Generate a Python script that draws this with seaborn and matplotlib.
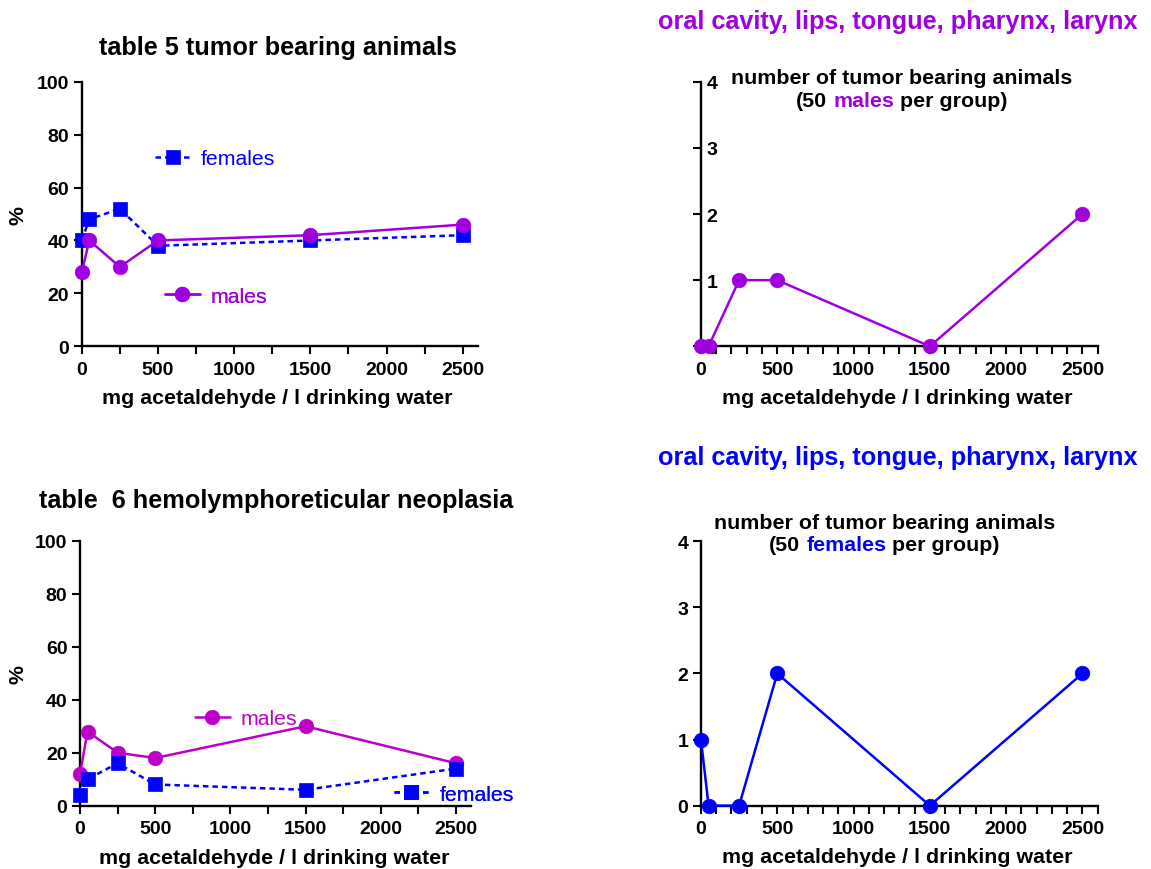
import matplotlib
matplotlib.use("Agg")
import matplotlib.pyplot as plt
import seaborn as sns
import pandas as pd
from matplotlib.ticker import MultipleLocator, FixedLocator
from matplotlib.offsetbox import TextArea, HPacker, VPacker, AnnotationBbox

# ---------------- data ----------------
dose = [0, 50, 250, 500, 1500, 2500]
t5_females = [40, 48, 52, 38, 40, 42]
t5_males = [28, 40, 30, 40, 42, 46]
t6_males = [12, 28, 20, 18, 30, 16]
t6_females = [4, 10, 16, 8, 6, 14]
oral_males = [0, 0, 1, 1, 0, 2]
oral_females = [1, 0, 0, 2, 0, 2]
pct_ticks = [0, 20, 40, 60, 80, 100]
count_ticks = [0, 1, 2, 3, 4]
dose_ticks = [0, 500, 1000, 1500, 2000, 2500]

PURPLE = "#A000E0"
MAGENTA = "#BC00C8"
BLUE = "#0000FF"

sns.set_theme(style="ticks")
plt.rcParams["font.family"] = ["Liberation Sans", "DejaVu Sans"]
plt.rcParams["font.weight"] = "bold"
plt.rcParams["axes.labelweight"] = "bold"

fig = plt.figure(figsize=(11.51, 8.70), dpi=100)

ax1 = fig.add_axes([0.0710, 0.6008, 0.3443, 0.3041])
ax2 = fig.add_axes([0.6090, 0.6008, 0.3447, 0.3041])
ax3 = fig.add_axes([0.0695, 0.0728, 0.3397, 0.3043])
ax4 = fig.add_axes([0.6090, 0.0728, 0.3447, 0.3039])

TICK_FS = 14
LABEL_FS = 15.4
XLABEL = "mg acetaldehyde / l drinking water"


def style(ax, ymax, yticks, minor_step):
    ax.set_xlim(0, 2600)
    ax.set_ylim(0, ymax)
    sns.despine(ax=ax)
    for s in ("left", "bottom"):
        ax.spines[s].set_linewidth(1.7)
        ax.spines[s].set_color("black")
    ax.xaxis.set_major_locator(FixedLocator(dose_ticks))
    ax.xaxis.set_minor_locator(MultipleLocator(minor_step))
    ax.yaxis.set_major_locator(FixedLocator(yticks))
    ax.tick_params(axis="both", which="both", direction="out", length=5.5,
                   width=1.5, color="black", labelsize=TICK_FS, labelcolor="black")
    ax.tick_params(axis="x", which="major", pad=5)
    for lab in ax.get_xticklabels() + ax.get_yticklabels():
        lab.set_fontweight("bold")
    ax.set_xlabel(XLABEL, fontsize=LABEL_FS, fontweight="bold", color="black")
    ax.xaxis.label.set_va("center")
    ax.set_facecolor("white")


def series(ax, y, color, marker, dashed, ms):
    ls = (0, (2.2, 1.6)) if dashed else "-"
    sns.lineplot(x=dose, y=y, ax=ax, color=color, marker=marker, markersize=ms,
                 linewidth=1.8, linestyle=ls, markeredgecolor=color,
                 markeredgewidth=0.5, clip_on=False, zorder=5, errorbar=None,
                 sort=False)
    return ax.lines[-1]


def entry(ax, handle, label, color, x, y):
    leg = ax.legend([handle], [label], loc="center left", bbox_to_anchor=(x, y),
                    frameon=False, borderpad=0, borderaxespad=0,
                    handlelength=1.65, handletextpad=0.5,
                    prop={"family": ["Liberation Sans"], "weight": "normal", "size": 15.3},
                    labelcolor=color)
    ax.add_artist(leg)
    return leg


def ylabel(ax, xcoord):
    ax.set_ylabel("%", fontsize=LABEL_FS, fontweight="bold", color="black")
    ax.yaxis.label.set_va("center")
    ax.yaxis.set_label_coords(xcoord, 0.5)


# ---- panel 1 ----
style(ax1, 100, pct_ticks, 250)
f1 = series(ax1, t5_females, BLUE, "s", True, 9.5)
m1 = series(ax1, t5_males, PURPLE, "o", False, 10.5)
ylabel(ax1, -0.161)
ax1.xaxis.set_label_coords(0.493, -0.192)
entry(ax1, f1, "females", BLUE, 0.185, 0.708)
entry(ax1, m1, "males", PURPLE, 0.210, 0.190)

# ---- panel 2 ----
style(ax2, 4, count_ticks, 100)
series(ax2, oral_males, PURPLE, "o", False, 10.5)
ax2.xaxis.set_label_coords(0.495, -0.192)
ax2.tick_params(axis="y", pad=-9.5)
for lab in ax2.get_yticklabels():
    lab.set_horizontalalignment("left")

# ---- panel 3 ----
style(ax3, 100, pct_ticks, 250)
m3 = series(ax3, t6_males, MAGENTA, "o", False, 10.5)
f3 = series(ax3, t6_females, BLUE, "s", True, 9.5)
ylabel(ax3, -0.159)
ax3.xaxis.set_label_coords(0.496, -0.194)
entry(ax3, m3, "males", MAGENTA, 0.294, 0.328)
entry(ax3, f3, "females", BLUE, 0.803, 0.044)

# ---- panel 4 ----
style(ax4, 4, count_ticks, 100)
series(ax4, oral_females, BLUE, "o", False, 10.5)
ax4.xaxis.set_label_coords(0.495, -0.192)

# ---- titles ----
TITLE_FS = 18.2
fig.text(0.2411, 0.9448, "table 5 tumor bearing animals", ha="center", va="center",
         fontsize=TITLE_FS, fontweight="bold", color="black")
fig.text(0.2402, 0.4241, "table  6 hemolymphoreticular neoplasia", ha="center", va="center",
         fontsize=TITLE_FS, fontweight="bold", color="black")
fig.text(0.7798, 1 - 22 / 870, "oral cavity, lips, tongue, pharynx, larynx", ha="center",
         va="center", fontsize=TITLE_FS, fontweight="bold", color=PURPLE)
fig.text(0.7798, 1 - 458 / 870, "oral cavity, lips, tongue, pharynx, larynx", ha="center",
         va="center", fontsize=TITLE_FS, fontweight="bold", color=BLUE)

SUB_FS = 15.4


def multi_title(word, color, x, y):
    tp = dict(fontsize=SUB_FS, fontweight="bold", color="black")
    line1 = TextArea("number of tumor bearing animals", textprops=tp)
    a = TextArea("(50", textprops=tp)
    b = TextArea(word, textprops=dict(fontsize=SUB_FS, fontweight="bold", color=color))
    c = TextArea("per group)", textprops=tp)
    line2 = HPacker(children=[a, b, c], sep=4.3, pad=0, align="baseline")
    box = VPacker(children=[line1, line2], sep=2.5, pad=0, align="center")
    ab = AnnotationBbox(box, (x, y), xycoords="figure fraction", frameon=False,
                        box_alignment=(0.5, 0.5), pad=0)
    fig.add_artist(ab)


multi_title("males", PURPLE, 0.7834, 1 - 90 / 870)
multi_title("females", BLUE, 0.7685, 1 - 534.5 / 870)

fig.savefig("out.png", dpi=100, facecolor="white")
